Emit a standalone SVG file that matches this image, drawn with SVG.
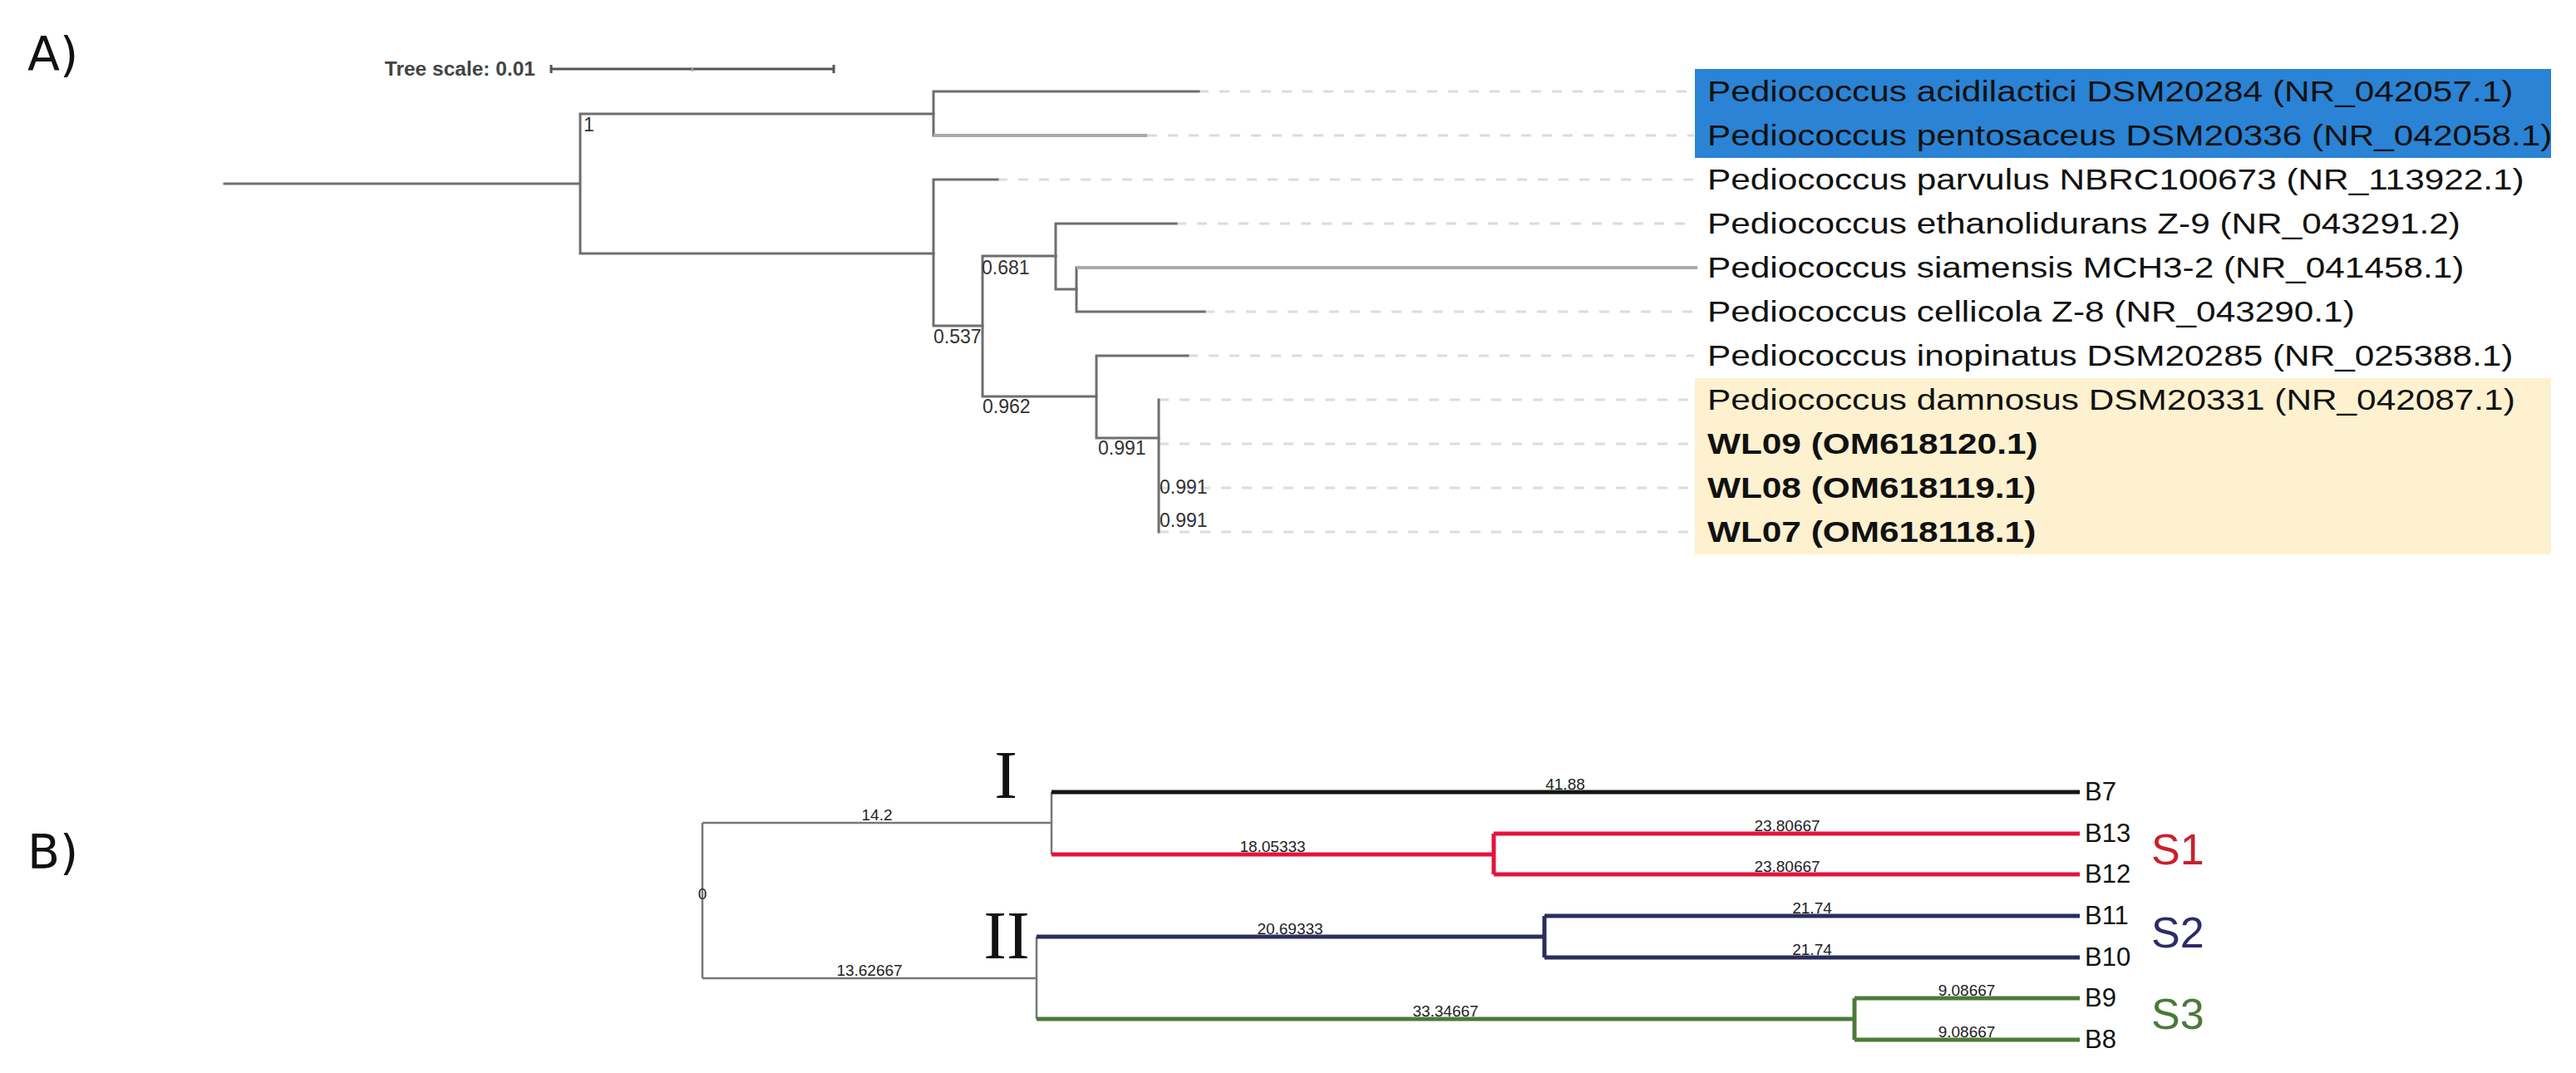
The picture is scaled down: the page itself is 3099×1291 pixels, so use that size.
<svg xmlns="http://www.w3.org/2000/svg" width="3099" height="1291" viewBox="0 0 3099 1291">
<style>
.panel{font-family:"DejaVu Sans",sans-serif;font-size:57px;fill:#111}
.br{stroke:#6e6e6e;stroke-width:3;fill:none;stroke-linecap:square}
.brl{stroke:#ababab;stroke-width:4;fill:none}
.dot{stroke:#dcdcdc;stroke-width:3;stroke-dasharray:12 13;fill:none}
.sup{font-family:"Liberation Sans",Arial,sans-serif;font-size:23px;fill:#333}
.lab{font-family:"Liberation Sans",Arial,sans-serif;font-size:35px;fill:#111}
.labb{font-family:"Liberation Sans",Arial,sans-serif;font-size:35px;fill:#111;font-weight:bold}
.g{stroke:#777;stroke-width:2.5;fill:none}
.k{stroke:#141414;stroke-width:5;fill:none}
.r{stroke:#e3143c;stroke-width:5;fill:none}
.n{stroke:#2c2c5e;stroke-width:5;fill:none}
.gr{stroke:#4d7a3c;stroke-width:5;fill:none}
.bl{font-family:"Liberation Sans",Arial,sans-serif;font-size:19px;fill:#222;text-anchor:middle}
.tip{font-family:"Liberation Sans",Arial,sans-serif;font-size:31px;fill:#111}
.rom{font-family:"Liberation Serif","Times New Roman",serif;font-size:83px;fill:#111;text-anchor:middle}
.sg{font-family:"Liberation Sans",Arial,sans-serif;font-size:52px}
</style>
<rect width="3099" height="1291" fill="#fff"/>

<!-- Panel A -->
<text id="labelA" class="panel" x="33" y="85">A)</text>

<g id="treescale">
<text x="644" y="91" font-family="Liberation Sans,Arial,sans-serif" font-size="24.5" font-weight="bold" fill="#444" text-anchor="end">Tree scale: 0.01</text>
<path d="M663 83H1003M663 78V88M1003 78V88" stroke="#555" stroke-width="3" fill="none"/>
<path d="M833 81V86" stroke="#aaa" stroke-width="2"/>
</g>

<g id="highlights">
<rect x="2039" y="83" width="1030" height="107" fill="#2a83d4"/>
<rect x="2039" y="455" width="1030" height="212" fill="#fdf1cf"/>
</g>

<g id="treeA-connectors">
<path class="dot" d="M1442 110H2038M1380 163H2038M1200 216H2038M1415 269H2038M1449 375H2038M1429 428H2038M1394 481H2038M1394 534H2038M1394 587H2038M1394 640H2038"/>
<path class="br" d="M270 221H698M698 137V305M698 137H1123M698 305H1123"/>
<path class="br" d="M1123 110V163M1123 110H1442"/>
<path class="brl" d="M1123 163H1380"/>
<path class="br" d="M1123 216V392M1123 216H1200M1123 392H1182"/>
<path class="br" d="M1182 308V477M1182 308H1270M1182 477H1319"/>
<path class="br" d="M1270 269V348M1270 269H1415M1270 348H1295"/>
<path class="br" d="M1295 322V375M1295 375H1449"/>
<path class="brl" d="M1295 322H2042"/>
<path class="br" d="M1319 428V527M1319 428H1429M1319 527H1394"/>
<path class="br" d="M1394 481V640"/>
</g>

<g id="supportA">
<text class="sup" x="702" y="158" font-size="20">1</text>
<text class="sup" x="1181" y="330">0.681</text>
<text class="sup" x="1123" y="413">0.537</text>
<text class="sup" x="1182" y="497">0.962</text>
<text class="sup" x="1321" y="547">0.991</text>
<text class="sup" x="1395" y="594">0.991</text>
<text class="sup" x="1395" y="634">0.991</text>
</g>

<g id="leavesA" transform="translate(2054,0) scale(1.21,1)">
<text id="leaf1" class="lab" x="0" y="122">Pediococcus acidilactici DSM20284 (NR_042057.1)</text>
<text id="leaf2" class="lab" x="0" y="175">Pediococcus pentosaceus DSM20336 (NR_042058.1)</text>
<text id="leaf3" class="lab" x="0" y="228">Pediococcus parvulus NBRC100673 (NR_113922.1)</text>
<text id="leaf4" class="lab" x="0" y="281">Pediococcus ethanolidurans Z-9 (NR_043291.2)</text>
<text id="leaf5" class="lab" x="0" y="334">Pediococcus siamensis MCH3-2 (NR_041458.1)</text>
<text id="leaf6" class="lab" x="0" y="387">Pediococcus cellicola Z-8 (NR_043290.1)</text>
<text id="leaf7" class="lab" x="0" y="440">Pediococcus inopinatus DSM20285 (NR_025388.1)</text>
<text id="leaf8" class="lab" x="0" y="493">Pediococcus damnosus DSM20331 (NR_042087.1)</text>
<text id="leaf9" class="labb" x="0" y="546">WL09 (OM618120.1)</text>
<text id="leaf10" class="labb" x="0" y="599">WL08 (OM618119.1)</text>
<text id="leaf11" class="labb" x="0" y="652">WL07 (OM618118.1)</text>
</g>

<!-- Panel B -->
<text id="labelB" class="panel" x="33" y="1045">B)</text>

<g id="treeB-connectors">
<path class="g" d="M845 990V1177M845 990H1265M845 1177H1247M1265 953V1028M1247 1127V1226"/>
<path class="k" d="M1265 953H2502"/>
<path class="r" d="M1265 1028H1797M1797 1003V1052M1797 1003H2502M1797 1052H2502"/>
<path class="n" d="M1247 1127H1858M1858 1102V1152M1858 1102H2502M1858 1152H2502"/>
<path class="gr" d="M1247 1226H2231M2231 1201V1251M2231 1201H2502M2231 1251H2502"/>
</g>

<g id="branchlabelsB">
<text class="bl" x="845" y="1082">0</text>
<text class="bl" x="1055" y="987">14.2</text>
<text class="bl" x="1046" y="1174">13.62667</text>
<text class="bl" x="1883" y="950">41.88</text>
<text class="bl" x="1531" y="1025">18.05333</text>
<text class="bl" x="2150" y="1000">23.80667</text>
<text class="bl" x="2150" y="1049">23.80667</text>
<text class="bl" x="1552" y="1124">20.69333</text>
<text class="bl" x="2180" y="1099">21.74</text>
<text class="bl" x="2180" y="1149">21.74</text>
<text class="bl" x="1739" y="1223">33.34667</text>
<text class="bl" x="2366" y="1198">9.08667</text>
<text class="bl" x="2366" y="1248">9.08667</text>
</g>

<g id="cluster-I"><text class="rom" x="1210" y="960">I</text></g>
<g id="cluster-II"><text class="rom" x="1211" y="1153">II</text></g>

<g id="tipsB">
<text id="B7" class="tip" x="2508" y="963">B7</text>
<text id="B13" class="tip" x="2508" y="1013">B13</text>
<text id="B12" class="tip" x="2508" y="1062">B12</text>
<text id="B11" class="tip" x="2508" y="1112">B11</text>
<text id="B10" class="tip" x="2508" y="1162">B10</text>
<text id="B9" class="tip" x="2508" y="1211">B9</text>
<text id="B8" class="tip" x="2508" y="1261">B8</text>
</g>

<g id="groups">
<text id="S1" class="sg" x="2588" y="1040" fill="#c9202e">S1</text>
<text id="S2" class="sg" x="2588" y="1140" fill="#2c2c66">S2</text>
<text id="S3" class="sg" x="2588" y="1238" fill="#4a7a38">S3</text>
</g>
</svg>
